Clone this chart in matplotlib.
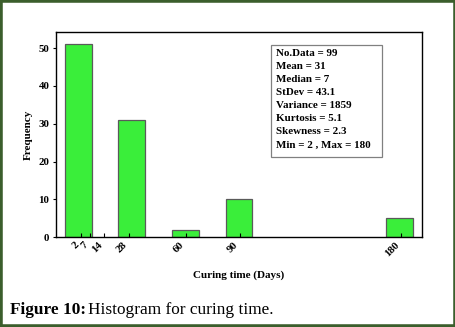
import matplotlib
matplotlib.use('Agg')
import matplotlib.pyplot as plt
from matplotlib.patches import Rectangle

# data
bar_slot = [0, 1, 2, 3, 6]
frequency = [51, 31, 2, 10, 5]
tick_pos = [0.05, 0.22, 0.48, 0.95, 2.01, 3.02, 6.02]
tick_labels = ['2', '7', '14', '28', '60', '90', '180']
stats = ['No.Data = 99', 'Mean = 31', 'Median = 7', 'StDev = 43.1',
         'Variance = 1859', 'Kurtosis = 5.1', 'Skewness = 2.3',
         'Min = 2 , Max = 180']

plt.rcParams['font.family'] = 'Liberation Serif'
plt.rcParams['font.weight'] = 'bold'

fig = plt.figure(figsize=(4.56, 3.27), dpi=100)
ax = fig.add_axes([0.1221, 0.2743, 0.804, 0.627])

ax.bar(bar_slot, frequency, width=0.5, color='#3aee3a', edgecolor='#5a5a5a', linewidth=0.9)
ax.set_xlim(-0.42, 6.42)
ax.set_ylim(0, 54.2)
ax.set_yticks([0, 10, 20, 30, 40, 50])
ax.set_xticks(tick_pos)
ax.set_xticklabels(tick_labels, rotation=45, ha='right', fontsize=7.8)
ax.tick_params(axis='y', labelsize=7.8, length=2.5, width=0.8, pad=2)
ax.tick_params(axis='x', direction='in', length=3, width=0.8, pad=2)
for s in ax.spines.values():
    s.set_linewidth(1)
ax.set_xlabel('Curing time (Days)', fontsize=8, fontweight='bold', labelpad=9)
ax.set_ylabel('Frequency', fontsize=8, fontweight='bold', labelpad=4)

# statistics box
fig.patches.append(Rectangle((271/456, 1-157.3/327), 110.7/456, 112.3/327,
                             transform=fig.transFigure, fill=False,
                             edgecolor='#808080', linewidth=0.9))
for i, line in enumerate(stats):
    fig.text(276/456, 1-(53.3+13.1*i)/327, line, fontsize=7.9,
             fontweight='bold', va='center', ha='left')

# caption and frame
fig.text(10/456, 1-310/327, 'Figure 10:', fontsize=12.4, fontweight='bold', va='center')
fig.text(88/456, 1-310/327, 'Histogram for curing time.', fontsize=12.4,
         fontweight='normal', va='center')
fig.patches.append(Rectangle((0, 0), 1, 1, transform=fig.transFigure, fill=False,
                             edgecolor='#3b5e2c', linewidth=4))

fig.savefig('out.png', dpi=100)
